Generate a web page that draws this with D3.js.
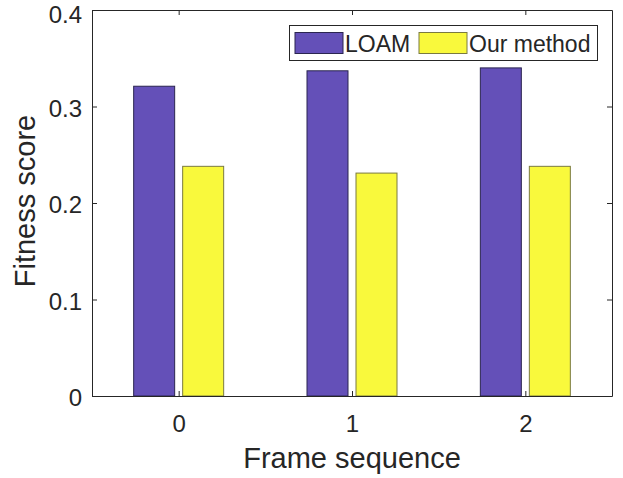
<!DOCTYPE html>
<html><head><meta charset="utf-8">
<script src="https://cdn.jsdelivr.net/npm/d3@7"></script>
<style>body{margin:0;background:#fff}svg{display:block}text{font-family:"Liberation Sans",Arial,sans-serif;fill:#262626}</style>
</head><body><svg id="c" width="623" height="478"></svg>
<script>
const categories = ["0", "1", "2"];
const seriesNames = ["LOAM", "Our method"];
const loam = [0.321, 0.337, 0.340];
const ours = [0.238, 0.231, 0.238];
const yTicks = [0, 0.1, 0.2, 0.3, 0.4];
const colors = ["#6450b8", "#f9f93c"];
const edges = ["#2a2550", "#7a7a40"];

const svg = d3.select("#c");
const L = 92, R = 612, T = 10, B = 396;
const x = d3.scaleLinear().domain([-0.5, 2.5]).range([L, R]);
const y = d3.scaleLinear().domain([0, 0.4]).range([B, T]);
const barW = 41, off = 24.5;

const data = [loam, ours];
data.forEach((vals, s) => {
  svg.append("g").selectAll("rect").data(vals).join("rect")
    .attr("x", (d, i) => x(i) + (s === 0 ? -off : off) - barW / 2)
    .attr("y", d => y(d))
    .attr("width", barW)
    .attr("height", d => B - y(d))
    .attr("fill", colors[s])
    .attr("stroke", edges[s])
    .attr("stroke-width", 1);
});

// axes
const gx = svg.append("g").attr("transform", `translate(0,${B})`)
  .call(d3.axisBottom(x).tickValues([0, 1, 2]).tickFormat((d, i) => categories[i]).tickSizeInner(-5).tickSizeOuter(0).tickPadding(19));
const gxt = svg.append("g").attr("transform", `translate(0,${T})`)
  .call(d3.axisTop(x).tickValues([0, 1, 2]).tickFormat("").tickSizeInner(-5).tickSizeOuter(0));
const gy = svg.append("g").attr("transform", `translate(${L},0)`)
  .call(d3.axisLeft(y).tickValues(yTicks).tickFormat(d => d === 0 ? "0" : d3.format(".1f")(d)).tickSizeInner(-5).tickSizeOuter(0).tickPadding(10));
const gyr = svg.append("g").attr("transform", `translate(${R},0)`)
  .call(d3.axisRight(y).tickValues(yTicks).tickFormat("").tickSizeInner(-5).tickSizeOuter(0));
[gx, gxt, gy, gyr].forEach(g => {
  g.selectAll("path,line").attr("stroke", "#262626").attr("stroke-width", 1);
  g.selectAll("text").style("font-size", "24px").attr("fill", "#262626");
});
gy.selectAll("text").attr("dy", d => d === 0.4 ? "0.5em" : "0.4em");

svg.append("text").attr("x", 352).attr("y", 468).attr("text-anchor", "middle")
  .style("font-size", "29px").text("Frame sequence");
svg.append("text").attr("transform", `translate(35,201) rotate(-90)`).attr("text-anchor", "middle")
  .style("font-size", "29px").text("Fitness score");

// legend
const lg = svg.append("g");
lg.append("rect").attr("x", 289.5).attr("y", 25.5).attr("width", 308).attr("height", 35)
  .attr("fill", "#fff").attr("stroke", "#262626").attr("stroke-width", 1);
const items = [{px: 295, tx: 345}, {px: 419, tx: 469}];
seriesNames.forEach((n, i) => {
  lg.append("rect").attr("x", items[i].px).attr("y", 32.5).attr("width", 48).attr("height", 21)
    .attr("fill", colors[i]).attr("stroke", edges[i]);
  lg.append("text").attr("x", items[i].tx).attr("y", 52).style("font-size", "23px").text(n);
});
</script></body></html>
